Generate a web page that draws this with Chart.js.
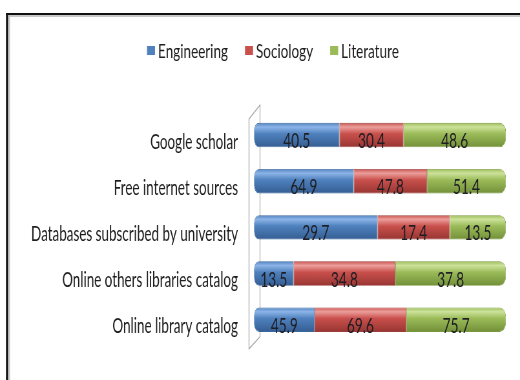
<!DOCTYPE html>
<html>
<head>
<meta charset="utf-8">
<script src="https://cdn.jsdelivr.net/npm/chart.js@4.4.0/dist/chart.umd.min.js"></script>
<style>
html,body{margin:0;padding:0;background:#fff;overflow:hidden;}
#wrap{width:520px;height:380px;position:relative;overflow:hidden;}
#c{display:block;}
</style>
</head>
<body>
<div id="wrap"><canvas id="c" width="765" height="380" style="width:520px;height:380px;"></canvas></div>
<script>
const categories = ["Google scholar","Free internet sources","Databases subscribed by university","Online others libraries catalog","Online library catalog"];
const engineering = [40.5, 64.9, 29.7, 13.5, 45.9];
const sociology   = [30.4, 47.8, 17.4, 34.8, 69.6];
const literature  = [48.6, 51.4, 13.5, 37.8, 75.7];
const seriesNames = ["Engineering","Sociology","Literature"];

const FONT = "Lato, 'DejaVu Sans Condensed', sans-serif";

// --- font metrics, used to reproduce the tall, condensed lettering ---
const mctx = document.createElement('canvas').getContext('2d');
mctx.font = '100px ' + FONT;
const CAP100 = mctx.measureText('E').actualBoundingBoxAscent || 72;
const DIG100 = mctx.measureText('40.5').actualBoundingBoxAscent || 72;
const LONG100 = mctx.measureText('Databases subscribed by university').width;
const ENG100 = mctx.measureText('Engineering').width;
const NUM100 = mctx.measureText('40.5').width;

// tick labels: cap height ~15px, longest label 207px wide on screen
const TICK_SIZE = 100 * 15 / CAP100;
const S = 207 / (LONG100 * TICK_SIZE / 100);      // horizontal compression of the canvas
const CW = Math.round(520 / S);
// legend: cap height ~13.5px, "Engineering" 70px wide
const LEGEND_SIZE = 100 * 13.5 / CAP100;
const LEGEND_SX = (70 / S) / (ENG100 * LEGEND_SIZE / 100);
// data labels: digit height ~15.5px, "40.5" 27px wide
const LABEL_SIZE = 100 * 15.5 / DIG100;
const LABEL_SX = (27 / S) / (NUM100 * LABEL_SIZE / 100);

const cv = document.getElementById('c');
cv.width = CW;

const raw = [engineering, sociology, literature];
const totals = categories.map((_, i) => engineering[i] + sociology[i] + literature[i]);
const pct = raw.map(s => s.map((v, i) => v / totals[i] * 100));

const palettes = [
  {light:'#8cb4e8', mid:'#4f81bd', dark:'#345d92', border:'#3a679c'},
  {light:'#eb9e9b', mid:'#c9504c', dark:'#963532', border:'#9c3d3a'},
  {light:'#cce29a', mid:'#9bbb59', dark:'#728f38', border:'#7a9a3c'}
];

function grad(p){
  return function(ctx){
    const chart = ctx.chart;
    const ys = chart.scales && chart.scales.y;
    if (!chart.chartArea || !ys || ctx.dataIndex === undefined) return p.mid;
    const y = ys.getPixelForValue(ctx.dataIndex);
    const g = chart.ctx.createLinearGradient(0, y - 12.5, 0, y + 12.5);
    g.addColorStop(0, p.mid);
    g.addColorStop(0.18, p.light);
    g.addColorStop(0.45, p.mid);
    g.addColorStop(1, p.dark);
    return g;
  };
}

const radii = [
  {topLeft: 5 / S, bottomLeft: 5 / S, topRight: 0, bottomRight: 0},
  0,
  {topLeft: 0, bottomLeft: 0, topRight: 6 / S, bottomRight: 6 / S}
];

const datasets = seriesNames.map((name, k) => ({
  label: name,
  data: pct[k],
  rawValues: raw[k],
  backgroundColor: grad(palettes[k]),
  borderColor: palettes[k].border,
  borderWidth: 0.8,
  borderSkipped: false,
  borderRadius: radii[k],
  barPercentage: 0.53,
  categoryPercentage: 1.0,
  legendColor: palettes[k].mid
}));

function stretchedText(c, text, x, y, sx){
  c.save();
  c.translate(x, y);
  c.scale(sx, 1);
  c.fillText(text, 0, 0);
  c.restore();
}

const framePlugin = {
  id: 'frame',
  beforeDraw(chart){
    const c = chart.ctx;
    c.save();
    c.fillStyle = '#fff';
    c.fillRect(0,0,chart.width,chart.height);
    c.fillStyle = '#c8c8c8';
    c.fillRect(8 / S, 15, chart.width, 2);
    c.fillRect(8 / S, 15, 2 / S, chart.height);
    c.fillStyle = '#111';
    c.fillRect(6 / S, 13, chart.width, 2);
    c.fillRect(6 / S, 13, 2 / S, chart.height);
    c.restore();
  },
  beforeDatasetsDraw(chart){
    const c = chart.ctx, a = chart.chartArea;
    const xr = a.left + 6 / S, xl = a.left - 5 / S;
    c.save();
    c.strokeStyle = '#a6a6a6';
    c.lineWidth = 1.2;
    c.beginPath();
    c.moveTo(xl, a.top + 7);
    c.lineTo(xr, a.top - 7);
    c.lineTo(xr, a.bottom - 6);
    c.lineTo(xl, a.bottom + 6);
    c.closePath();
    c.stroke();
    c.restore();
  },
  afterDatasetsDraw(chart){
    const c = chart.ctx;
    c.save();
    c.font = LABEL_SIZE + 'px ' + FONT;
    c.fillStyle = '#1e1e24';
    c.textAlign = 'center';
    c.textBaseline = 'alphabetic';
    chart.data.datasets.forEach((ds, k) => {
      chart.getDatasetMeta(k).data.forEach((bar, i) => {
        const cx = (bar.x + bar.base) / 2;
        stretchedText(c, ds.rawValues[i].toFixed(1), cx, bar.y + 13, LABEL_SX);
      });
    });
    // legend
    c.font = LEGEND_SIZE + 'px ' + FONT;
    c.textAlign = 'left';
    let x = 147 / S;
    const base = 58;
    chart.data.datasets.forEach(ds => {
      c.fillStyle = ds.legendColor;
      c.fillRect(x, 46, 8 / S, 9);
      x += 11 / S;
      c.fillStyle = '#1e1e1e';
      stretchedText(c, ds.label, x, base, LEGEND_SX);
      x += c.measureText(ds.label).width * LEGEND_SX + 17 / S;
    });
    c.restore();
  }
};

new Chart(cv, {
  type: 'bar',
  data: { labels: categories, datasets },
  options: {
    indexAxis: 'y',
    responsive: false,
    devicePixelRatio: 1,
    animation: false,
    layout: { padding: { left: 0, right: CW - 506 / S, top: 112, bottom: 31 } },
    plugins: { legend: { display: false }, tooltip: { enabled: false } },
    scales: {
      x: { stacked: true, min: 0, max: 100, display: false },
      y: {
        stacked: true,
        grid: { display: false, drawTicks: false, tickLength: 0 },
        border: { display: false },
        ticks: { color: '#1e1e1e', font: { family: FONT, size: TICK_SIZE }, padding: 16 / S, labelOffset: 7 },
        afterFit(s){ s.width = 254 / S; }
      }
    }
  },
  plugins: [framePlugin]
});
</script>
</body>
</html>
